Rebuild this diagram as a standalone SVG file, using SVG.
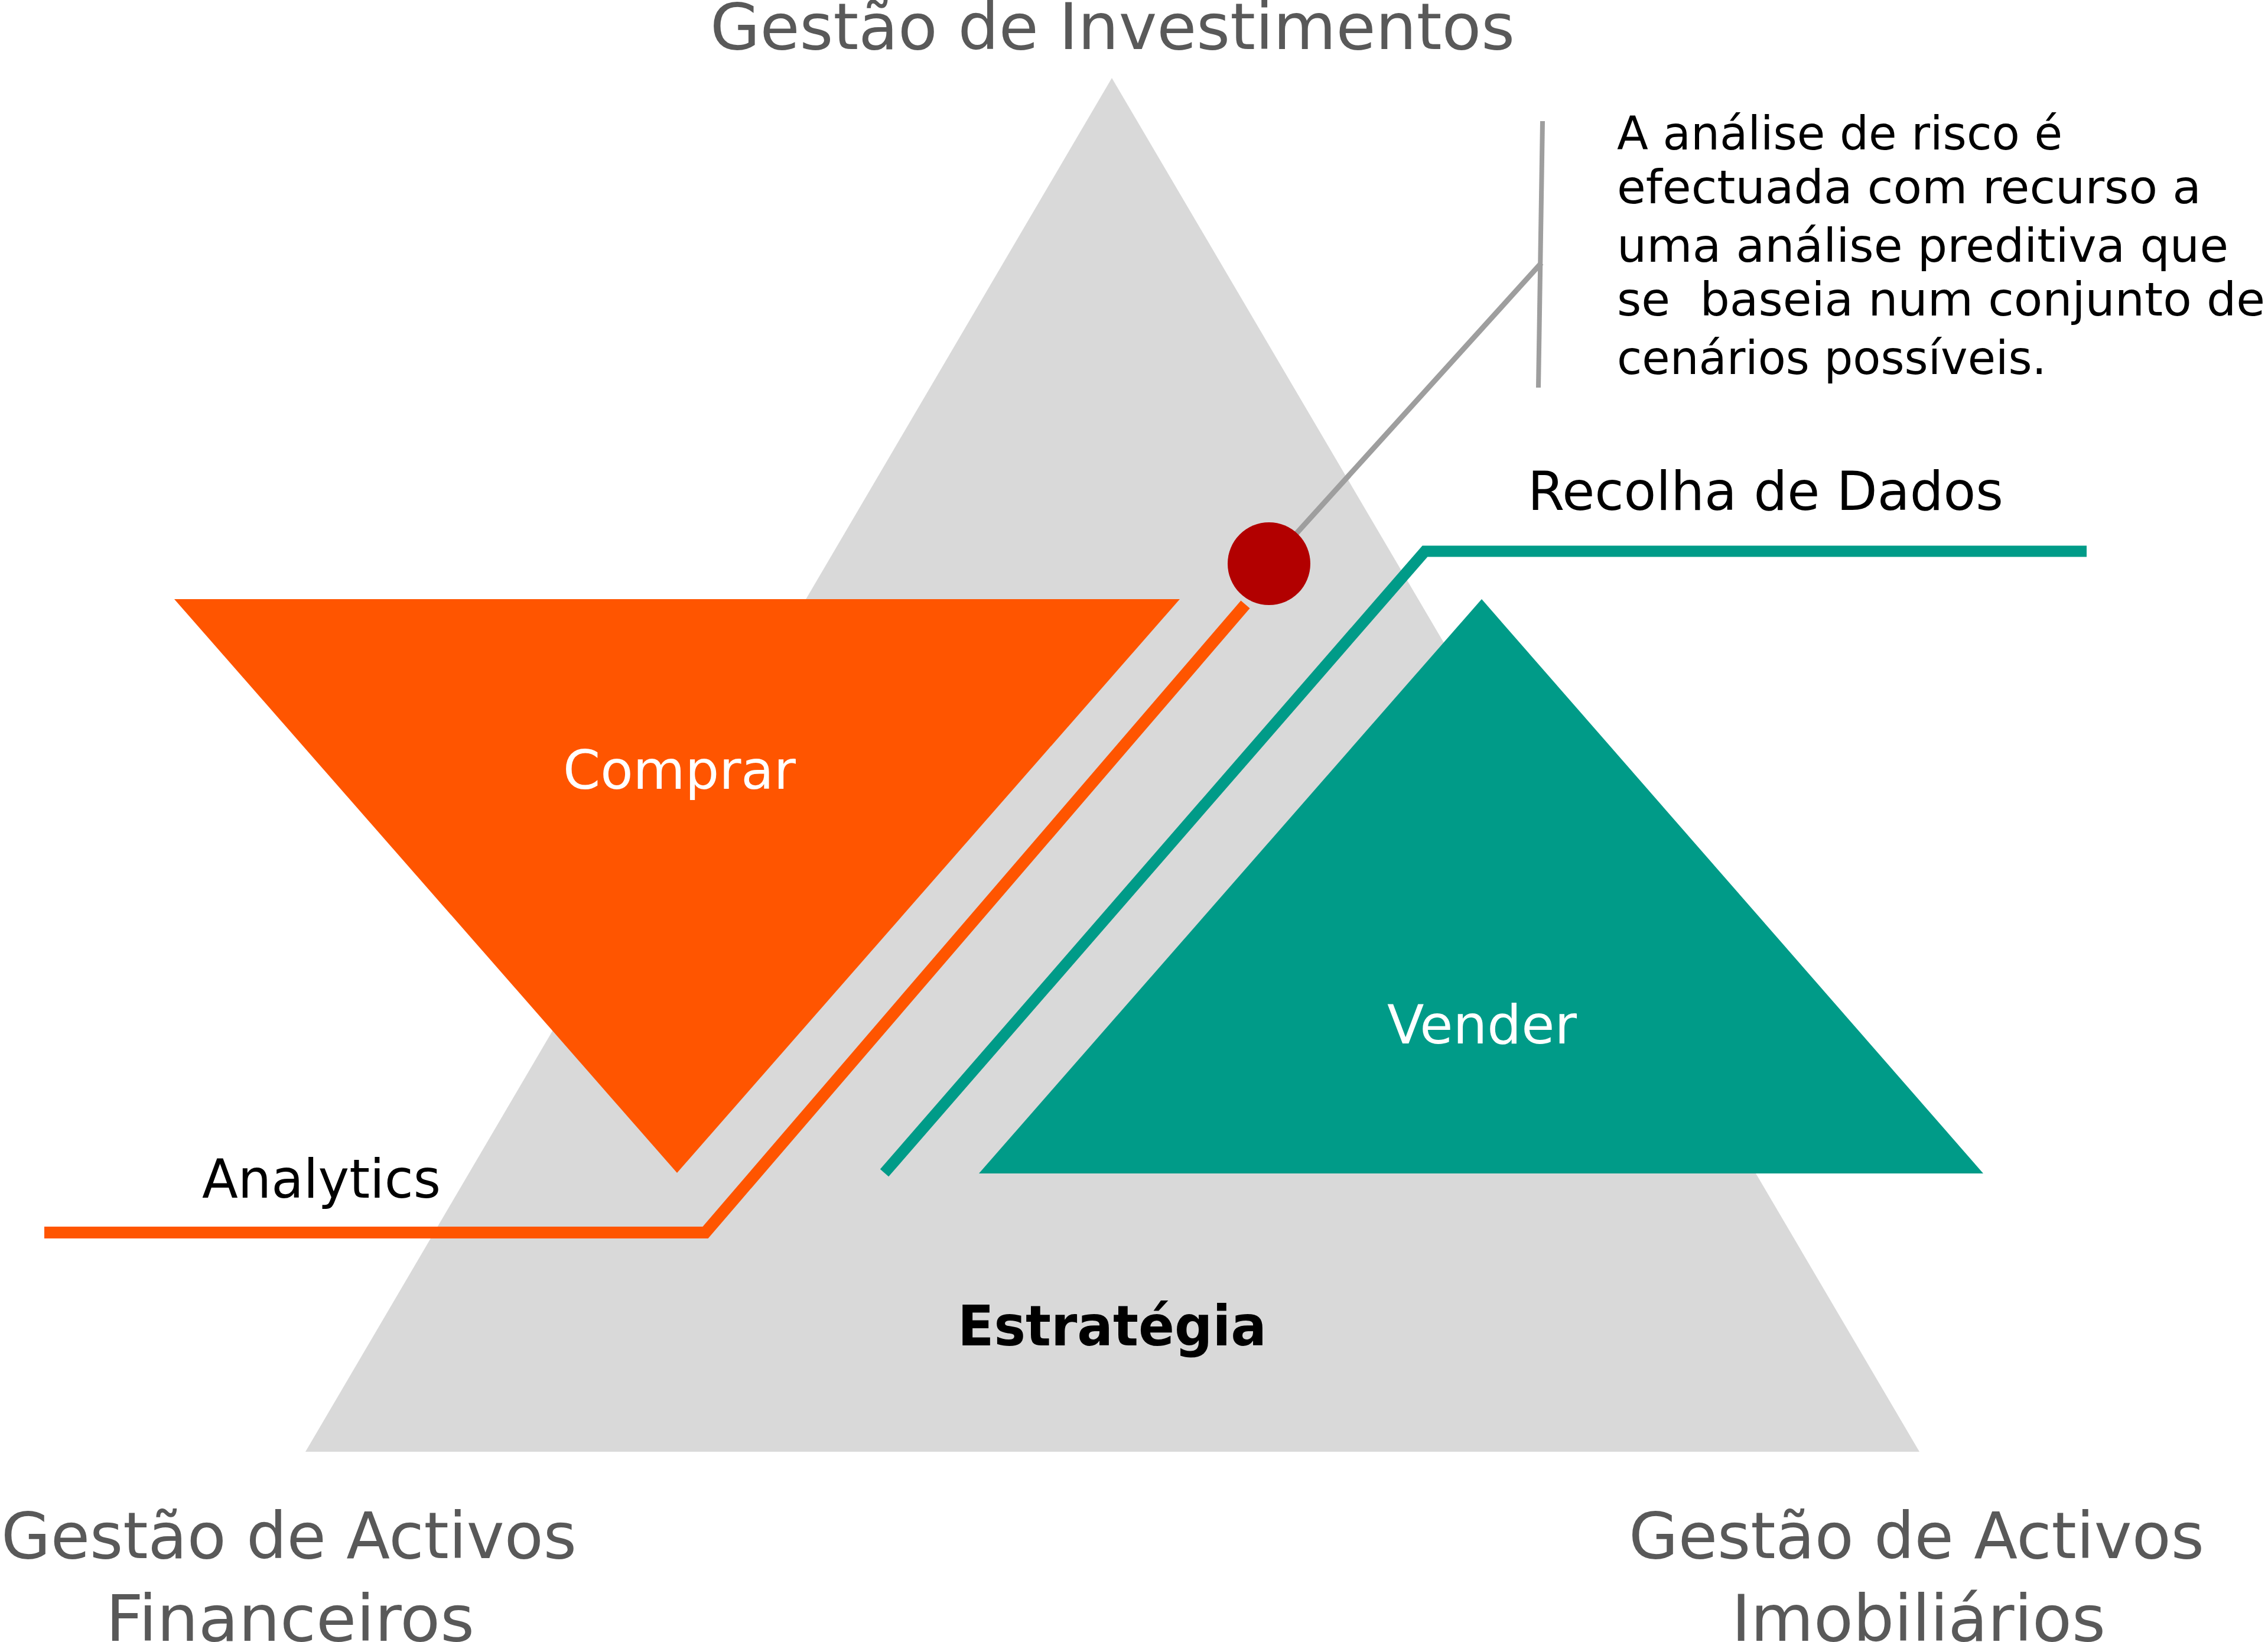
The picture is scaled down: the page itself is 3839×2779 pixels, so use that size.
<svg xmlns="http://www.w3.org/2000/svg" width="3839" height="2779" viewBox="0 0 3839 2779">
  <style>
    .lbl { font-family: "DejaVu Sans", "Liberation Sans", sans-serif; }
    .gray { fill: #595959; font-size: 109px; }
    .dark { fill: #000000; font-size: 90px; }
    .white { fill: #FFFFFF; font-size: 90px; }
    .para { fill: #000000; font-size: 79px; white-space: pre; }
    .bold { fill: #000000; font-size: 94px; font-weight: bold; }
    .conn { fill: none; stroke-linejoin: miter; stroke-linecap: butt; }
  </style>
  <rect x="0" y="0" width="3839" height="2779" fill="#FFFFFF"/>

  <g id="estrategia">
    <polygon points="1882,132 3249,2457 517,2457" fill="#D9D9D9"/>
    <text class="lbl bold" x="1621" y="2277" textLength="523" lengthAdjust="spacingAndGlyphs">Estratégia</text>
  </g>

  <g id="comprar">
    <polygon points="295,1014 1997,1014 1146,1985" fill="#FF5500"/>
    <text class="lbl white" x="953" y="1335" textLength="394" lengthAdjust="spacingAndGlyphs">Comprar</text>
  </g>

  <g id="vender">
    <polygon points="2508,1014 3357,1986 1657,1986" fill="#009B88"/>
    <text class="lbl white" x="2348" y="1766" textLength="321" lengthAdjust="spacingAndGlyphs">Vender</text>
  </g>

  <g id="connectors">
    <polyline class="conn" points="75,2086 1194,2086 2108,1023" stroke="#FF5500" stroke-width="20"/>
    <polyline class="conn" points="1497,1985 2412,933 3532,933" stroke="#009B88" stroke-width="19"/>
    <line class="conn" x1="2148" y1="954" x2="2609" y2="445" stroke="#9E9E9E" stroke-width="9"/>
    <line class="conn" x1="2611" y1="205" x2="2604" y2="656" stroke="#9E9E9E" stroke-width="8"/>
  </g>

  <g id="risco">
    <circle cx="2148" cy="954" r="70" fill="#B20000"/>
  </g>

  <g id="nota-risco">
    <text class="lbl para" x="2737" y="253" textLength="754" lengthAdjust="spacingAndGlyphs">A análise de risco é</text>
    <text class="lbl para" x="2737" y="344" textLength="989" lengthAdjust="spacingAndGlyphs">efectuada com recurso a</text>
    <text class="lbl para" x="2737" y="443" textLength="1035" lengthAdjust="spacingAndGlyphs">uma análise preditiva que</text>
    <text class="lbl para" x="2737" y="534" xml:space="preserve" textLength="1097" lengthAdjust="spacingAndGlyphs">se  baseia num conjunto de</text>
    <text class="lbl para" x="2737" y="633" textLength="727" lengthAdjust="spacingAndGlyphs">cenários possíveis.</text>
  </g>

  <g id="gestao-investimentos">
    <text class="lbl gray" x="1202" y="83" textLength="1362" lengthAdjust="spacingAndGlyphs">Gestão de Investimentos</text>
  </g>

  <g id="gestao-activos-financeiros">
    <text class="lbl gray" x="2" y="2637" textLength="974" lengthAdjust="spacingAndGlyphs">Gestão de Activos</text>
    <text class="lbl gray" x="179" y="2777" textLength="624" lengthAdjust="spacingAndGlyphs">Financeiros</text>
  </g>

  <g id="gestao-activos-imobiliarios">
    <text class="lbl gray" x="2757" y="2637" textLength="974" lengthAdjust="spacingAndGlyphs">Gestão de Activos</text>
    <text class="lbl gray" x="2931" y="2777" textLength="633" lengthAdjust="spacingAndGlyphs">Imobiliários</text>
  </g>

  <g id="recolha-de-dados">
    <text class="lbl dark" x="2586" y="863" textLength="805" lengthAdjust="spacingAndGlyphs">Recolha de Dados</text>
  </g>

  <g id="analytics">
    <text class="lbl dark" x="342" y="2027" textLength="404" lengthAdjust="spacingAndGlyphs">Analytics</text>
  </g>
</svg>
